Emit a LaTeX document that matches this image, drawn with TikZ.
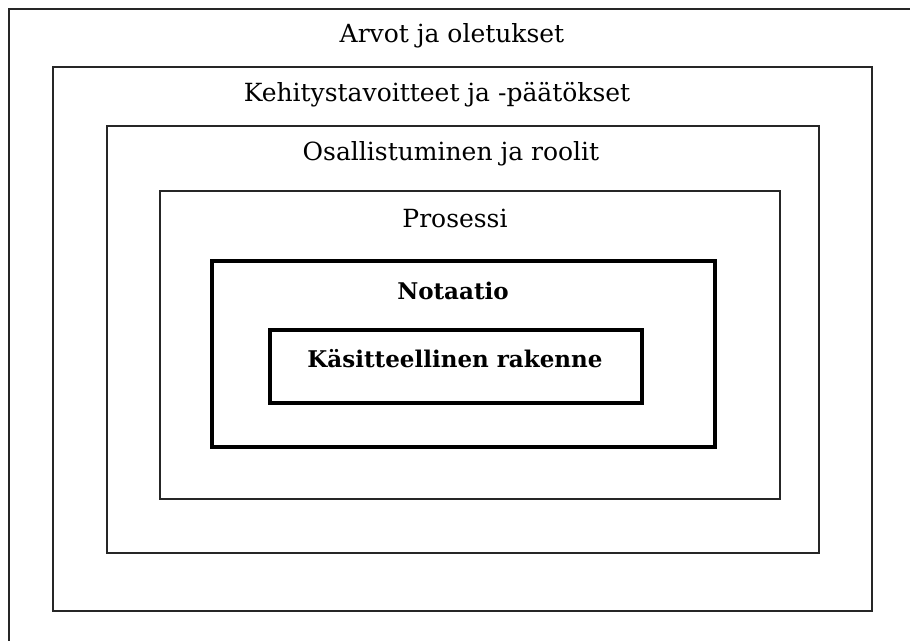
\documentclass[tikz,border=0pt]{standalone}
\usepackage{fontspec}
\setmainfont{DejaVu Serif}
\begin{document}
\begin{tikzpicture}[x=1pt,y=-1pt,
  thinframe/.style={draw=black!85,line width=1.3pt},
  thickframe/.style={draw=black,line width=3.4pt},
  layerlabel/.style={font=\fontsize{25}{28}\selectfont,inner sep=0pt,anchor=center},
  corelabel/.style={font=\fontsize{23}{27}\selectfont\bfseries,inner sep=0pt,anchor=center}]
  \useasboundingbox (0,0) rectangle (910,640);
  \fill[white] (0,0) rectangle (910,640);
  % nested layers, outermost first
  \begin{scope}
    \clip (0,0) rectangle (910,640);
    \draw[thinframe] (9,9) rectangle (920,650);
  \end{scope}
  \draw[thinframe] (53,67) rectangle (872,611);
  \draw[thinframe] (107,126) rectangle (819,553);
  \draw[thinframe] (160,191) rectangle (780,499);
  \draw[thickframe] (212,261) rectangle (715,447);
  \draw[thickframe] (270,330) rectangle (642,403);
  % layer labels
  \node[layerlabel] (arvot) at (452,36) {Arvot ja oletukset};
  \node[layerlabel] (kehitys) at (437,95) {Kehitystavoitteet ja -päätökset};
  \node[layerlabel] (osall) at (451,154) {Osallistuminen ja roolit};
  \node[layerlabel] (prosessi) at (455,218) {Prosessi};
  \node[corelabel] (notaatio) at (453,291) {Notaatio};
  \node[corelabel] (rakenne) at (455,359) {Käsitteellinen rakenne};
\end{tikzpicture}
\end{document}
